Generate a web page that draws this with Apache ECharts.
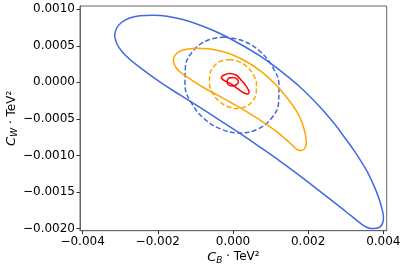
<!DOCTYPE html>
<html><head><meta charset="utf-8">
<script src="https://cdn.jsdelivr.net/npm/echarts@6/dist/echarts.min.js"></script>
<style>html,body{margin:0;padding:0;background:#fff}#c{width:406px;height:270px}</style>
</head><body><div id="c"></div>
<script>
// Axis ticks and labels
const xTicks = [-0.004, -0.002, 0.000, 0.002, 0.004];
const xTickLabels = ['\u22120.004', '\u22120.002', '0.000', '0.002', '0.004'];
const yTicks = [-0.0020, -0.0015, -0.0010, -0.0005, 0.0000, 0.0005, 0.0010];
const yTickLabels = ['\u22120.0020', '\u22120.0015', '\u22120.0010', '\u22120.0005', '0.0000', '0.0005', '0.0010'];

// Contours, [C_B, C_W] pairs (TeV^-2 units)
const blueSolid = [
  [-0.003148, 0.000635], [-0.003100, 0.000737], [-0.002967, 0.000819], [-0.002767, 0.000877],
  [-0.002475, 0.000911], [-0.002129, 0.000919], [-0.001756, 0.000906], [-0.001330, 0.000860],
  [-0.000852, 0.000778], [-0.000346, 0.000669], [0.000186, 0.000525], [0.000719, 0.000361],
  [0.001251, 0.000163], [0.001783, -0.000063], [0.002315, -0.000337], [0.002714, -0.000576],
  [0.002980, -0.000761], [0.003246, -0.000952], [0.003539, -0.001192], [0.003752, -0.001417],
  [0.003898, -0.001609], [0.003978, -0.001759], [0.004005, -0.001855], [0.003978, -0.001930],
  [0.003912, -0.001978], [0.003824, -0.001996], [0.003672, -0.002000], [0.003513, -0.001971],
  [0.003379, -0.001923], [0.003113, -0.001814], [0.002847, -0.001705], [0.002315, -0.001492],
  [0.001783, -0.001280], [0.001251, -0.001077], [0.000719, -0.000885], [0.000186, -0.000699],
  [-0.000346, -0.000521], [-0.000878, -0.000343], [-0.001411, -0.000172], [-0.001809, -0.000042],
  [-0.002155, 0.000081], [-0.002475, 0.000204], [-0.002741, 0.000313], [-0.002954, 0.000423],
  [-0.003087, 0.000525], [-0.003148, 0.000635]
];
const blueDashed = [
  [-0.000239, 0.000621], [0.000255, 0.000570], [0.000705, 0.000430], [0.001046, 0.000216],
  [0.001224, -0.000036], [0.001211, -0.000287], [0.001009, -0.000501], [0.000649, -0.000642],
  [0.000186, -0.000692], [-0.000309, -0.000642], [-0.000758, -0.000501], [-0.001099, -0.000287],
  [-0.001277, -0.000036], [-0.001264, 0.000216], [-0.001062, 0.000430], [-0.000702, 0.000570],
  [-0.000239, 0.000621]
];
const orangeSolid = [
  [-0.001589, 0.000286], [-0.001543, 0.000368], [-0.001424, 0.000423], [-0.001224, 0.000454],
  [-0.000958, 0.000466], [-0.000665, 0.000460], [-0.000346, 0.000430], [0.000000, 0.000375],
  [0.000399, 0.000272], [0.000798, 0.000129], [0.001171, -0.000049], [0.001464, -0.000227],
  [0.001703, -0.000405], [0.001849, -0.000569], [0.001929, -0.000720], [0.001951, -0.000829],
  [0.001916, -0.000897], [0.001836, -0.000932], [0.001730, -0.000925], [0.001597, -0.000870],
  [0.001410, -0.000781], [0.001118, -0.000658], [0.000772, -0.000535], [0.000373, -0.000405],
  [0.000000, -0.000293], [-0.000399, -0.000179], [-0.000798, -0.000067], [-0.001144, 0.000047],
  [-0.001384, 0.000131], [-0.001517, 0.000204], [-0.001589, 0.000286]
];
const orangeDashed = [
  [-0.000106, 0.000313], [0.000141, 0.000287], [0.000367, 0.000215], [0.000538, 0.000107],
  [0.000625, -0.000022], [0.000617, -0.000150], [0.000516, -0.000259], [0.000338, -0.000331],
  [0.000106, -0.000357], [-0.000141, -0.000331], [-0.000367, -0.000259], [-0.000538, -0.000150],
  [-0.000625, -0.000022], [-0.000617, 0.000107], [-0.000516, 0.000215], [-0.000338, 0.000287],
  [-0.000106, 0.000313]
];
const redOuter = [
  [-0.000319, 0.000067], [-0.000239, 0.000101], [-0.000080, 0.000122], [0.000080, 0.000101],
  [0.000213, 0.000033], [0.000346, -0.000049], [0.000426, -0.000131], [0.000399, -0.000159],
  [0.000293, -0.000145], [0.000133, -0.000090], [-0.000053, -0.000022], [-0.000239, 0.000026],
  [-0.000319, 0.000067]
];
const redInner = [
  [-0.000160, 0.000019], [-0.000106, 0.000060], [0.000000, 0.000067], [0.000106, 0.000047],
  [0.000146, 0.000005], [0.000080, -0.000036], [-0.000027, -0.000049], [-0.000133, -0.000029],
  [-0.000160, 0.000019]
];

const BLUE = '#4169E1', ORANGE = '#FFA500', RED = '#FF0000';
const FONT = 'DejaVu Sans';

function fmt(ticks, labels) {
  return function (v) {
    for (let i = 0; i < ticks.length; i++) if (Math.abs(ticks[i] - v) < 1e-9) return labels[i];
    return '';
  };
}
function curve(data, color, dashed) {
  return {
    type: 'line', data: data, showSymbol: false, smooth: 0.4, clip: false, silent: true,
    lineStyle: { color: color, width: 1.5, type: dashed ? [5, 2.4] : 'solid' }
  };
}
const nameRich = {
  i: { fontStyle: 'italic', fontSize: 13, fontFamily: FONT },
  s: { fontStyle: 'italic', fontSize: 9, fontFamily: FONT, padding: [6, 0, 0, 0] },
  n: { fontSize: 12, fontFamily: FONT }
};

const axisCommon = {
  type: 'value',
  axisLine: { show: true, onZero: false, lineStyle: { color: '#666', width: 1 } },
  axisTick: { show: true, inside: false, length: 3.5, lineStyle: { color: '#333' } },
  splitLine: { show: false },
  axisLabel: { color: '#000', fontFamily: FONT, fontSize: 12 },
  nameLocation: 'middle',
  nameMoveOverlap: false
};

const chart = echarts.init(document.getElementById('c'), null, { renderer: 'canvas' });
chart.setOption({
  animation: false,
  backgroundColor: '#fff',
  grid: { left: 80, right: 19.3, top: 6, bottom: 39.3, show: true, borderColor: '#666', borderWidth: 1,
          containLabel: false, outerBoundsMode: 'none' },
  xAxis: Object.assign({}, axisCommon, {
    min: -0.00407, max: 0.00409,
    axisTick: Object.assign({}, axisCommon.axisTick, { customValues: xTicks }),
    axisLabel: Object.assign({}, axisCommon.axisLabel, { customValues: xTicks, formatter: fmt(xTicks, xTickLabels), margin: 5 }),
    name: '{i|C}{s|B}{n| \u00b7 TeV\u00b2}', nameGap: 19,
    nameTextStyle: { color: '#000', fontFamily: FONT, fontSize: 12, rich: nameRich }
  }),
  yAxis: Object.assign({}, axisCommon, {
    min: -0.00203, max: 0.001045,
    axisTick: Object.assign({}, axisCommon.axisTick, { customValues: yTicks }),
    axisLabel: Object.assign({}, axisCommon.axisLabel, { customValues: yTicks, formatter: fmt(yTicks, yTickLabels), margin: 5 }),
    name: '{i|C}{s|W}{n| \u00b7 TeV\u00b2}', nameGap: 61, nameRotate: 90,
    nameTextStyle: { color: '#000', fontFamily: FONT, fontSize: 12, rich: nameRich }
  }),
  series: [
    curve(blueSolid, BLUE, false),
    curve(blueDashed, BLUE, true),
    curve(orangeSolid, ORANGE, false),
    curve(orangeDashed, ORANGE, true),
    curve(redOuter, RED, false),
    curve(redInner, RED, false)
  ]
});
</script></body></html>
